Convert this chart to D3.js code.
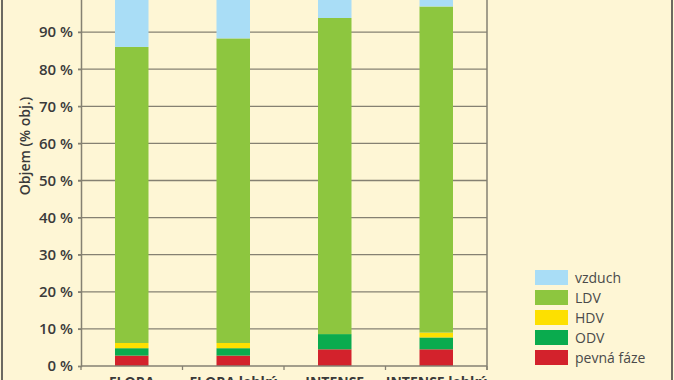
<!DOCTYPE html>
<html lang="cs">
<head>
<meta charset="utf-8">
<title>Objem (% obj.)</title>
<script src="https://cdn.jsdelivr.net/npm/d3@7"></script>
<style>
  body { margin: 0; background: #fef6d5; }
  svg { display: block; font-family: "Open Sans", "Noto Sans", sans-serif; }
</style>
</head>
<body>
<div id="chart"></div>
<script>
// values (% of volume)
const categories = ["FLORA", "FLORA lehký", "INTENSE", "INTENSE lehký"];
const pevnaFaze = [2.8, 2.8, 4.5, 4.5];
const odv = [2.0, 2.0, 4.1, 3.2];
const hdv = [1.4, 1.4, 0.0, 1.3];
const ldv = [79.8, 82.1, 85.2, 87.9];
const vzduch = [14.0, 11.7, 6.2, 3.1];
const yTicks = [0, 10, 20, 30, 40, 50, 60, 70, 80, 90, 100];

const seriesNames = ["pevná fáze", "ODV", "HDV", "LDV", "vzduch"];
const seriesColors = ["#d3222c", "#0aab4e", "#fde000", "#8dc63f", "#a9ddf6"];
const seriesValues = [pevnaFaze, odv, hdv, ldv, vzduch];

const width = 674, height = 380;
const plotLeft = 81, plotRight = 487, plotBottom = 366, plotTop = -5;

const rows = categories.map((c, i) => {
    const r = { cat: c };
    seriesNames.forEach((s, j) => { r[s] = seriesValues[j][i]; });
    return r;
});

const svg = d3.select("#chart").append("svg")
    .attr("width", width)
    .attr("height", height);

svg.append("rect")
    .attr("width", width).attr("height", height)
    .attr("fill", "#fef6d5");

const x = d3.scaleBand().domain(categories).range([plotLeft, plotRight]).paddingInner(0.67).paddingOuter(0.335);
const xb = d3.scaleBand().domain(categories).range([plotLeft, plotRight]);
const y = d3.scaleLinear().domain([0, 100]).range([plotBottom, plotTop]);

// gridlines
svg.append("g")
    .selectAll("line")
    .data(yTicks.slice(1))
    .enter().append("line")
    .attr("x1", plotLeft - 3).attr("x2", plotRight)
    .attr("y1", d => y(d)).attr("y2", d => y(d))
    .attr("stroke", "#858172").attr("stroke-width", 1.3);

// stacked bars
const stack = d3.stack().keys(seriesNames)(rows);
svg.append("g")
    .selectAll("g")
    .data(stack)
    .enter().append("g")
    .attr("fill", (d, i) => seriesColors[i])
    .selectAll("rect")
    .data(d => d)
    .enter().append("rect")
    .attr("x", d => x(d.data.cat))
    .attr("width", x.bandwidth())
    .attr("y", d => y(d[1]))
    .attr("height", d => y(d[0]) - y(d[1]));

// y axis
const yAxis = svg.append("g")
    .attr("transform", "translate(" + plotLeft + ",0)")
    .call(d3.axisLeft(y).tickValues(yTicks).tickSize(3).tickFormat(d => d + " %"));
yAxis.select(".domain").attr("stroke", "#858172").attr("stroke-width", 1.5);
yAxis.selectAll(".tick line").attr("stroke", "#858172").attr("stroke-width", 1.3);
yAxis.selectAll(".tick text")
    .attr("x", -8)
    .attr("fill", "#3a3a3a")
    .style("font-family", "'Open Sans', sans-serif")
    .style("font-size", "15px")
    .style("font-weight", "600");

// right border of plot
svg.append("line")
    .attr("x1", plotRight).attr("x2", plotRight)
    .attr("y1", plotTop).attr("y2", plotBottom + 4)
    .attr("stroke", "#858172").attr("stroke-width", 1.5);

// x axis
svg.append("line")
    .attr("x1", plotLeft).attr("x2", plotRight)
    .attr("y1", plotBottom).attr("y2", plotBottom)
    .attr("stroke", "#858172").attr("stroke-width", 1.5);
svg.append("g")
    .selectAll("line")
    .data(categories.concat(["end"]))
    .enter().append("line")
    .attr("x1", (d, i) => i < categories.length ? xb(d) : plotRight)
    .attr("x2", (d, i) => i < categories.length ? xb(d) : plotRight)
    .attr("y1", plotBottom).attr("y2", plotBottom + 4)
    .attr("stroke", "#858172").attr("stroke-width", 1.3);
svg.append("g")
    .selectAll("text")
    .data(categories)
    .enter().append("text")
    .attr("x", d => xb(d) + xb.bandwidth() / 2)
    .attr("y", plotBottom + 21)
    .attr("text-anchor", "middle")
    .attr("fill", "#3a3a3a")
    .style("font-size", "14px")
    .style("font-weight", "700")
    .text(d => d.toUpperCase().replace("LEHKÝ", "lehký"));

// y title
svg.append("text")
    .attr("transform", "translate(30,146) rotate(-90)")
    .attr("text-anchor", "middle")
    .attr("fill", "#3a3a3a")
    .style("font-size", "14px")
    .style("font-weight", "600")
    .text("Objem (% obj.)");

// legend (top entry first)
const legend = svg.append("g").attr("transform", "translate(535,270)");
const legendOrder = seriesNames.slice().reverse();
legendOrder.forEach((s, i) => {
    const g = legend.append("g").attr("transform", "translate(0," + (i * 20) + ")");
    g.append("rect")
        .attr("width", 33).attr("height", 15)
        .attr("fill", seriesColors[seriesNames.indexOf(s)]);
    g.append("text")
        .attr("x", 40).attr("y", 12.5)
        .attr("fill", "#4a4a4a")
        .style("font-size", "14px")
        .text(s);
});

// outer frame
svg.append("line").attr("x1", 2).attr("x2", 2).attr("y1", 0).attr("y2", height)
    .attr("stroke", "#3a3a3a").attr("stroke-width", 1.5);
svg.append("line").attr("x1", 672).attr("x2", 672).attr("y1", 0).attr("y2", height)
    .attr("stroke", "#3a3a3a").attr("stroke-width", 1.5);
</script>
</body>
</html>
